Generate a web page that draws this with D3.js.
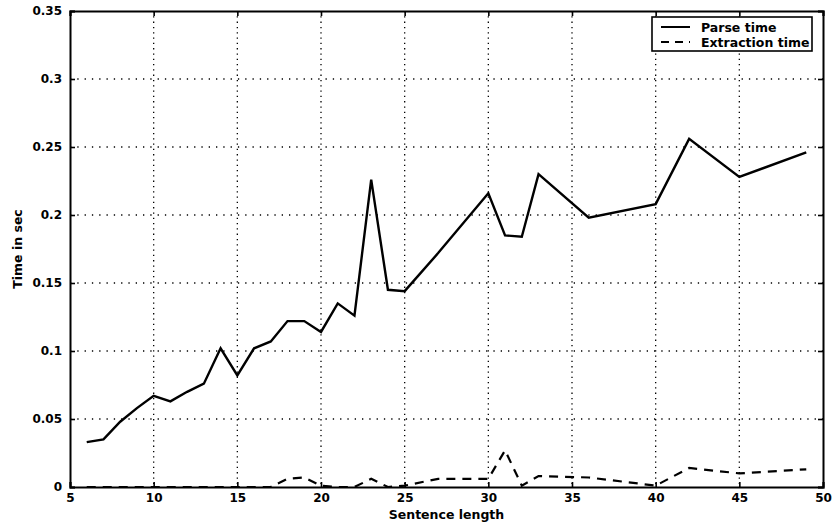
<!DOCTYPE html>
<html>
<head>
<meta charset="utf-8">
<script src="https://cdn.jsdelivr.net/npm/d3@7"></script>
<style>
  body { margin: 0; background: #fff; }
  svg { display: block; }
  text { font-family: "DejaVu Sans", Arial, sans-serif; font-weight: bold; fill: #000; }
</style>
</head>
<body>
<svg width="833" height="523"></svg>
<script>
// sentence lengths (x) and measured times
var lengths        = [6, 7, 8, 9, 10, 11, 12, 13, 14, 15, 16, 17, 18, 19, 20, 21, 22, 23, 24, 25, 27, 30, 31, 32, 33, 36, 40, 42, 45, 49];
var parseTime      = [0.033, 0.035, 0.048, 0.058, 0.067, 0.063, 0.070, 0.076, 0.102, 0.082, 0.102, 0.107, 0.122, 0.122, 0.114, 0.135, 0.126, 0.226, 0.145, 0.144, 0.172, 0.216, 0.185, 0.184, 0.230, 0.198, 0.208, 0.256, 0.228, 0.246];
var extractionTime = [0, 0, 0, 0, 0, 0, 0, 0, 0, 0, 0, 0, 0.006, 0.007, 0.001, 0, 0, 0.006, 0, 0.001, 0.006, 0.006, 0.027, 0.001, 0.008, 0.007, 0.001, 0.014, 0.010, 0.013];
var xTicks = [5, 10, 15, 20, 25, 30, 35, 40, 45, 50];
var yTicks = [0, 0.05, 0.1, 0.15, 0.2, 0.25, 0.3, 0.35];
var yTickLabels = ["0", "0.05", "0.1", "0.15", "0.2", "0.25", "0.3", "0.35"];
var seriesNames = ["Parse time", "Extraction time"];

var svg = d3.select("svg"),
    width = +svg.attr("width"),
    height = +svg.attr("height");
var margin = {top: 11, right: 10, bottom: 36, left: 70};
var w = width - margin.left - margin.right,
    h = height - margin.top - margin.bottom;

var x = d3.scaleLinear().domain([5, 50]).range([0, w]);
var y = d3.scaleLinear().domain([0, 0.35]).range([h, 0]);

var g = svg.append("g").attr("transform", "translate(" + margin.left + "," + margin.top + ")");

// dotted grid
g.append("g").selectAll("line")
    .data(xTicks.slice(1, -1))
    .enter().append("line")
      .attr("x1", function(d) { return x(d); })
      .attr("x2", function(d) { return x(d); })
      .attr("y1", 0).attr("y2", h)
      .attr("stroke", "#000").attr("stroke-width", 1.3)
      .attr("stroke-dasharray", "1.3,4");
g.append("g").selectAll("line")
    .data(yTicks.slice(1, -1))
    .enter().append("line")
      .attr("y1", function(d) { return y(d); })
      .attr("y2", function(d) { return y(d); })
      .attr("x1", 0).attr("x2", w)
      .attr("stroke", "#000").attr("stroke-width", 1.3)
      .attr("stroke-dasharray", "1.3,6");

// axes, ticks pointing inward
var fmt = function(d, i) { return yTickLabels[i]; };
g.append("g").attr("transform", "translate(0," + h + ")")
    .call(d3.axisBottom(x).tickValues(xTicks).tickSize(-5).tickPadding(6).tickFormat(d3.format("d")));
g.append("g")
    .call(d3.axisLeft(y).tickValues(yTicks).tickSize(-5).tickPadding(8).tickFormat(fmt));
g.append("g")
    .call(d3.axisTop(x).tickValues(xTicks).tickSize(-5).tickFormat(""));
g.append("g").attr("transform", "translate(" + w + ",0)")
    .call(d3.axisRight(y).tickValues(yTicks).tickSize(-5).tickFormat(""));

g.selectAll(".domain").attr("stroke", "#000").attr("stroke-width", 2);
g.selectAll(".tick line").attr("stroke", "#000").attr("stroke-width", 1.6);
g.selectAll(".tick text").attr("font-size", 12).attr("font-family", "DejaVu Sans, Arial, sans-serif").attr("font-weight", "bold");

// series
var line = d3.line()
    .x(function(d) { return x(d[0]); })
    .y(function(d) { return y(d[1]); });

g.append("path")
    .datum(d3.zip(lengths, parseTime))
    .attr("fill", "none").attr("stroke", "#000").attr("stroke-width", 2.4)
    .attr("stroke-linejoin", "miter")
    .attr("d", line);

g.append("path")
    .datum(d3.zip(lengths, extractionTime))
    .attr("fill", "none").attr("stroke", "#000").attr("stroke-width", 2.2)
    .attr("stroke-dasharray", "9,7")
    .attr("d", line);

// axis labels
svg.append("text")
    .attr("x", margin.left + w / 2).attr("y", 519)
    .attr("text-anchor", "middle").attr("font-size", 12.5)
    .text("Sentence length");
svg.append("text")
    .attr("transform", "translate(22," + (margin.top + h / 2) + ") rotate(-90)")
    .attr("text-anchor", "middle").attr("font-size", 12.5)
    .text("Time in sec");

// legend
var legend = svg.append("g").attr("transform", "translate(652,17)");
legend.append("rect")
    .attr("width", 160).attr("height", 34)
    .attr("fill", "#fff").attr("stroke", "#000").attr("stroke-width", 1.6);
seriesNames.forEach(function(name, i) {
  var yy = 10 + i * 15;
  legend.append("line")
      .attr("x1", 9).attr("x2", 38).attr("y1", yy).attr("y2", yy)
      .attr("stroke", "#000").attr("stroke-width", 2)
      .attr("stroke-dasharray", i === 0 ? null : "8,6");
  legend.append("text")
      .attr("x", 49).attr("y", yy + 4.5)
      .attr("font-size", 12.5)
      .text(name);
});
</script>
</body>
</html>
